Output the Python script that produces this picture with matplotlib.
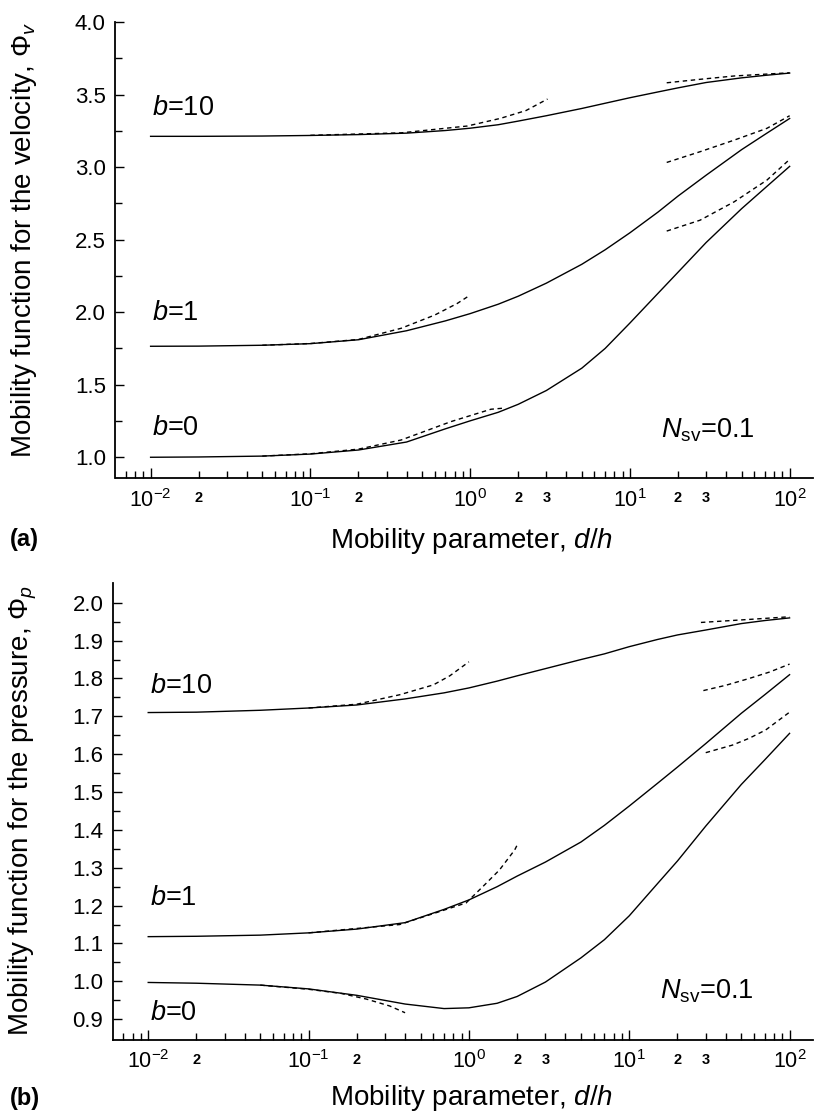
import matplotlib
matplotlib.use('Agg')
import matplotlib.pyplot as plt
from matplotlib.ticker import FixedLocator, FixedFormatter

plt.rcParams['font.family'] = ['Liberation Sans', 'DejaVu Sans']
plt.rcParams['mathtext.fontset'] = 'custom'
plt.rcParams['mathtext.rm'] = 'Liberation Sans'
plt.rcParams['mathtext.it'] = 'Liberation Sans:italic'
plt.rcParams['mathtext.bf'] = 'Liberation Sans:bold'

# mobility parameter d/h for the full solution curves
x = [0.01, 0.02, 0.05, 0.1, 0.2, 0.4, 0.7, 1, 1.5, 2, 3, 5, 7, 10, 15, 20, 30, 50, 70, 100]

# (a) velocity mobility function, N_sv = 0.1
phi_v_b0 = [1.0, 1.002, 1.008, 1.022, 1.05, 1.105, 1.196, 1.251, 1.31, 1.365, 1.46, 1.614,
            1.75, 1.925, 2.13, 2.275, 2.48, 2.713, 2.855, 3.005]
phi_v_b1 = [1.765, 1.766, 1.772, 1.783, 1.81, 1.872, 1.94, 1.99, 2.055, 2.11, 2.2, 2.33,
            2.43, 2.547, 2.69, 2.8, 2.944, 3.12, 3.225, 3.335]
phi_v_b10 = [3.212, 3.212, 3.214, 3.218, 3.224, 3.234, 3.252, 3.268, 3.292, 3.317, 3.354, 3.404,
             3.44, 3.478, 3.518, 3.546, 3.583, 3.615, 3.632, 3.648]

# asymptotes (dashed), small and large d/h
v_low_b0_x = [0.05, 0.1, 0.2, 0.37, 0.76, 1.35, 1.6]
v_low_b0 = [1.008, 1.024, 1.056, 1.119, 1.246, 1.331, 1.338]
v_low_b1_x = [0.05, 0.1, 0.2, 0.37, 0.6, 0.83, 0.96]
v_low_b1 = [1.772, 1.784, 1.812, 1.889, 1.98, 2.06, 2.105]
v_low_b10_x = [0.1, 0.37, 0.96, 1.55, 2.24, 3.05]
v_low_b10 = [3.219, 3.236, 3.283, 3.336, 3.39, 3.469]
v_high_x = [17, 27.5, 45, 72, 100]
v_high_b0 = [2.559, 2.634, 2.761, 2.91, 3.053]
v_high_b1 = [3.032, 3.106, 3.186, 3.267, 3.354]
v_high_b10 = [3.581, 3.605, 3.628, 3.641, 3.65]

# (b) pressure mobility function, N_sv = 0.1
phi_p_b0 = [0.997, 0.995, 0.99, 0.98, 0.963, 0.94, 0.928, 0.93, 0.942, 0.96, 0.998, 1.062,
            1.11, 1.173, 1.258, 1.318, 1.41, 1.52, 1.585, 1.655]
phi_p_b1 = [1.118, 1.119, 1.122, 1.128, 1.138, 1.155, 1.19, 1.215, 1.25, 1.278, 1.315, 1.368,
            1.412, 1.463, 1.523, 1.566, 1.628, 1.708, 1.757, 1.81]
phi_p_b10 = [1.71, 1.711, 1.716, 1.722, 1.73, 1.746, 1.762, 1.775, 1.793, 1.807, 1.826, 1.85,
             1.865, 1.884, 1.903, 1.915, 1.928, 1.945, 1.953, 1.96]

p_low_b0_x = [0.05, 0.1, 0.16, 0.23, 0.32, 0.4]
p_low_b0 = [0.99, 0.979, 0.968, 0.953, 0.935, 0.917]
p_low_b1_x = [0.1, 0.37, 0.96, 1.22, 1.55, 1.93, 2.0]
p_low_b1 = [1.128, 1.15, 1.207, 1.25, 1.294, 1.347, 1.36]
p_low_b10_x = [0.1, 0.2, 0.37, 0.6, 0.76, 1.0]
p_low_b10 = [1.722, 1.732, 1.757, 1.783, 1.807, 1.844]
p_high_b0_x = [30, 44, 56, 71, 100]
p_high_b0 = [1.604, 1.624, 1.642, 1.664, 1.711]
p_high_b1_x = [29, 40, 56, 75, 100]
p_high_b1 = [1.768, 1.782, 1.80, 1.817, 1.838]
p_high_b10_x = [28, 56, 100]
p_high_b10 = [1.948, 1.956, 1.963]

major_x = [0.01, 0.1, 1, 10, 100]
major_lbl = [r'$\mathregular{10^{-2}}$', r'$\mathregular{10^{-1}}$', r'$\mathregular{10^{0}}$',
             r'$\mathregular{10^{1}}$', r'$\mathregular{10^{2}}$']
minor_x = [k * 10.0 ** n for n in range(-3, 2) for k in range(2, 10)]
shown = {0.02: '2', 0.2: '2', 2.0: '2', 3.0: '3', 20.0: '2', 30.0: '3'}
minor_lbl = [shown.get(round(v, 6), '') for v in minor_x]

W, H = 815, 1113
fig = plt.figure(figsize=(W / 100, H / 100), dpi=100)
ax1 = fig.add_axes([115.5 / W, 1 - 478.3 / H, 697.5 / W, 456.3 / H])
ax2 = fig.add_axes([113 / W, 1 - 1040 / H, 700 / W, 457.3 / H])

dash = (0, (3.2, 2.6))


def style(ax, ylim, yt, ymt):
    ax.set_xscale('log')
    ax.set_xlim(0.00603, 140)
    ax.set_ylim(*ylim)
    for s in ['top', 'right']:
        ax.spines[s].set_visible(False)
    for s in ['left', 'bottom']:
        ax.spines[s].set_linewidth(1.3)
    ax.xaxis.set_major_locator(FixedLocator(major_x))
    ax.xaxis.set_major_formatter(FixedFormatter(major_lbl))
    ax.xaxis.set_minor_locator(FixedLocator(minor_x))
    ax.xaxis.set_minor_formatter(FixedFormatter(minor_lbl))
    ax.set_yticks(yt)
    ax.set_yticklabels(['%.1f' % v for v in yt])
    ax.set_yticks(ymt, minor=True)
    ax.tick_params(axis='both', which='both', direction='in', top=False, right=False, width=1.0)
    ax.tick_params(axis='x', which='major', length=7.2, labelsize=15.5, pad=7.5)
    ax.tick_params(axis='x', which='minor', length=4.8, labelsize=10.5, pad=9)
    ax.tick_params(axis='y', which='major', length=6.5, labelsize=16, pad=7)
    ax.tick_params(axis='y', which='minor', length=5)
    for t in ax.get_xticklabels(minor=True):
        t.set_fontweight('bold')


# panel (a)
ax1.plot(x, phi_v_b0, color='black', lw=1.0)
ax1.plot(x, phi_v_b1, color='black', lw=1.0)
ax1.plot(x, phi_v_b10, color='black', lw=1.0)
ax1.plot(v_low_b0_x, v_low_b0, color='black', lw=1.0, ls=dash)
ax1.plot(v_low_b1_x, v_low_b1, color='black', lw=1.0, ls=dash)
ax1.plot(v_low_b10_x, v_low_b10, color='black', lw=1.0, ls=dash)
ax1.plot(v_high_x, v_high_b0, color='black', lw=1.0, ls=dash)
ax1.plot(v_high_x, v_high_b1, color='black', lw=1.0, ls=dash)
ax1.plot(v_high_x, v_high_b10, color='black', lw=1.0, ls=dash)
style(ax1, (0.855, 4.0), [1.0, 1.5, 2.0, 2.5, 3.0, 3.5, 4.0],
      [1.25, 1.75, 2.25, 2.75, 3.25, 3.75])
ax1.text(0.0102, 3.359, '$b$=10', fontsize=19.5)
ax1.text(0.0102, 1.946, '$b$=1', fontsize=19.5)
ax1.text(0.0102, 1.154, '$b$=0', fontsize=19.5)
ax1.text(15.6, 1.133, r'$N_{\mathrm{sv}}$=0.1', fontsize=19.5)
ax1.set_xlabel('Mobility parameter, $d/h$', fontsize=20, va='baseline')
ax1.xaxis.set_label_coords(0.51, -0.153)
ax1.set_ylabel(r'Mobility function for the velocity, $\Phi_v$', fontsize=20)
ax1.yaxis.set_label_coords(-0.110, 0.522)

# panel (b)
ax2.plot(x, phi_p_b0, color='black', lw=1.0)
ax2.plot(x, phi_p_b1, color='black', lw=1.0)
ax2.plot(x, phi_p_b10, color='black', lw=1.0)
ax2.plot(p_low_b0_x, p_low_b0, color='black', lw=1.0, ls=dash)
ax2.plot(p_low_b1_x, p_low_b1, color='black', lw=1.0, ls=dash)
ax2.plot(p_low_b10_x, p_low_b10, color='black', lw=1.0, ls=dash)
ax2.plot(p_high_b0_x, p_high_b0, color='black', lw=1.0, ls=dash)
ax2.plot(p_high_b1_x, p_high_b1, color='black', lw=1.0, ls=dash)
ax2.plot(p_high_b10_x, p_high_b10, color='black', lw=1.0, ls=dash)
pt = [round(0.9 + 0.1 * i, 1) for i in range(12)]
pmt = [round(0.95 + 0.1 * i, 2) for i in range(11)]
style(ax2, (0.845, 2.053), pt, pmt)
ax2.text(0.0102, 1.761, '$b$=10', fontsize=19.5)
ax2.text(0.0102, 1.202, '$b$=1', fontsize=19.5)
ax2.text(0.0102, 0.8985, '$b$=0', fontsize=19.5)
ax2.text(15.5, 0.955, r'$N_{\mathrm{sv}}$=0.1', fontsize=19.5)
ax2.set_xlabel('Mobility parameter, $d/h$', fontsize=20, va='baseline')
ax2.xaxis.set_label_coords(0.512, -0.143)
ax2.set_ylabel(r'Mobility function for the pressure, $\Phi_p$', fontsize=20)
ax2.yaxis.set_label_coords(-0.106, 0.503)

fig.text(10 / W, 1 - 546 / H, '(a)', fontsize=17, fontweight='bold')
fig.text(10 / W, 1 - 1105 / H, '(b)', fontsize=17, fontweight='bold')

fig.savefig('out.png', dpi=100)
